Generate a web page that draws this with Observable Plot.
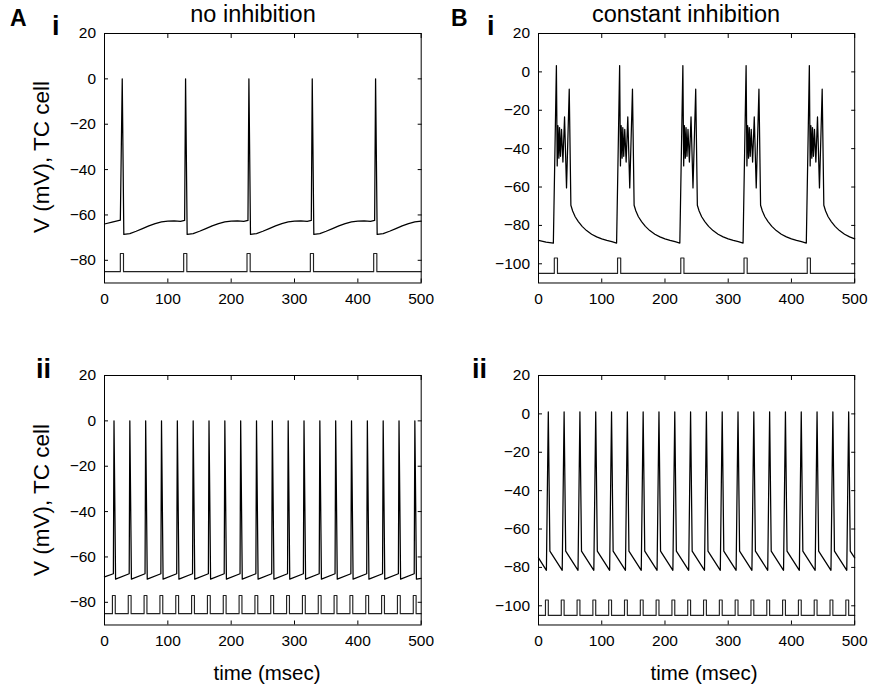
<!DOCTYPE html>
<html><head><meta charset="utf-8">
<script src="https://cdn.jsdelivr.net/npm/d3@7"></script>
<script src="https://cdn.jsdelivr.net/npm/@observablehq/plot@0.6"></script>
<style>
body{margin:0;background:#fff;}
#wrap{position:relative;width:870px;height:690px;overflow:hidden;font-family:"Liberation Sans",Arial,sans-serif;}
#overlay{position:absolute;left:0;top:0;pointer-events:none;}
</style></head><body><div id="wrap"></div>
<script>
// ---- data ----
const xTicks = [0,100,200,300,400,500];
const yTicksA = [-80,-60,-40,-20,0,20];
const yTicksB = [-100,-80,-60,-40,-20,0,20];
const yDomainA = [-90,20];
const yDomainB = [-110,20];
const pulseLevelsA = [-85,-77];
const pulseLevelsB = [-105,-97];
const pulseOnAi = [25,125,225,325,425];
const pulseOnBi = [25,125,225,325,425];
const pulseOnAii = [12.5,37.5,62.5,87.5,112.5,137.5,162.5,187.5,212.5,237.5,262.5,287.5,312.5,337.5,362.5,387.5,412.5,437.5,462.5,487.5];
const pulseOnBii = [11,36,61,86,111,136,161,186,211,236,261,286,311,336,361,386,411,436,461,486];
const pulseWidthI = 5;
const pulseWidthII = 4.5;

// V (mV) traces as [time (ms), V]
const vAi = [
[0,-64],[12,-63.2],[25,-62.3],
[28,0],[30.5,-68.6],[40,-68.2],[50,-67.2],[60,-66],[70,-64.8],[80,-63.8],[90,-63.1],[100,-62.7],[110,-62.6],[120,-62.8],[126.5,-62.4],
[128,0],[130.5,-68.6],[140,-68.2],[150,-67.2],[160,-66],[170,-64.8],[180,-63.8],[190,-63.1],[200,-62.7],[210,-62.6],[220,-62.8],[226.5,-62.4],
[228,0],[230.5,-68.6],[240,-68.2],[250,-67.2],[260,-66],[270,-64.8],[280,-63.8],[290,-63.1],[300,-62.7],[310,-62.6],[320,-62.8],[326.5,-62.4],
[328,0],[330.5,-68.6],[340,-68.2],[350,-67.2],[360,-66],[370,-64.8],[380,-63.8],[390,-63.1],[400,-62.7],[410,-62.6],[420,-62.8],[426.5,-62.4],
[428,0],[430.5,-68.6],[440,-68.2],[450,-67.2],[460,-66],[470,-64.8],[480,-63.8],[490,-63.1],[500,-62.7]
];
const vBi = [
[0,-87.8],[12,-88.7],
[23.5,-89.2],[28.3,3.3],[29.6,-49],[30.7,-28],[32.2,-45],[33.3,-29],[34.8,-44],[36.4,-30],[38.6,-47],[41.2,-23.5],[44.3,-60.5],[48.6,-9],[51.2,-69.5],[54,-72.5],[58,-75.5],[63,-78],[69,-80.5],[76,-82.7],[84,-84.6],[92,-86],[100,-87],[108,-87.8],[116,-88.5],
[123.5,-89.2],[128.3,3.3],[129.6,-49],[130.7,-28],[132.2,-45],[133.3,-29],[134.8,-44],[136.4,-30],[138.6,-47],[141.2,-23.5],[144.3,-60.5],[148.6,-9],[151.2,-69.5],[154,-72.5],[158,-75.5],[163,-78],[169,-80.5],[176,-82.7],[184,-84.6],[192,-86],[200,-87],[208,-87.8],[216,-88.5],
[223.5,-89.2],[228.3,3.3],[229.6,-49],[230.7,-28],[232.2,-45],[233.3,-29],[234.8,-44],[236.4,-30],[238.6,-47],[241.2,-23.5],[244.3,-60.5],[248.6,-9],[251.2,-69.5],[254,-72.5],[258,-75.5],[263,-78],[269,-80.5],[276,-82.7],[284,-84.6],[292,-86],[300,-87],[308,-87.8],[316,-88.5],
[323.5,-89.2],[328.3,3.3],[329.6,-49],[330.7,-28],[332.2,-45],[333.3,-29],[334.8,-44],[336.4,-30],[338.6,-47],[341.2,-23.5],[344.3,-60.5],[348.6,-9],[351.2,-69.5],[354,-72.5],[358,-75.5],[363,-78],[369,-80.5],[376,-82.7],[384,-84.6],[392,-86],[400,-87],[408,-87.8],[416,-88.5],
[423.5,-89.2],[428.3,3.3],[429.6,-49],[430.7,-28],[432.2,-45],[433.3,-29],[434.8,-44],[436.4,-30],[438.6,-47],[441.2,-23.5],[444.3,-60.5],[448.6,-9],[451.2,-69.5],[454,-72.5],[458,-75.5],[463,-78],[469,-80.5],[476,-82.7],[484,-84.6],[492,-86],[500,-87]
];
const vAii = [
[0,-68.8],[14,-67.4],[15,0],[17.5,-69.8],
[39,-67.4],[40,0],[42.5,-69.8],
[64,-67.4],[65,0],[67.5,-69.8],
[89,-67.4],[90,0],[92.5,-69.8],
[114,-67.4],[115,0],[117.5,-69.8],
[139,-67.4],[140,0],[142.5,-69.8],
[164,-67.4],[165,0],[167.5,-69.8],
[189,-67.4],[190,0],[192.5,-69.8],
[214,-67.4],[215,0],[217.5,-69.8],
[239,-67.4],[240,0],[242.5,-69.8],
[264,-67.4],[265,0],[267.5,-69.8],
[289,-67.4],[290,0],[292.5,-69.8],
[314,-67.4],[315,0],[317.5,-69.8],
[339,-67.4],[340,0],[342.5,-69.8],
[364,-67.4],[365,0],[367.5,-69.8],
[389,-67.4],[390,0],[392.5,-69.8],
[414,-67.4],[415,0],[417.5,-69.8],
[439,-67.4],[440,0],[442.5,-69.8],
[464,-67.4],[465,0],[467.5,-69.8],
[489,-67.4],[490,0],[492.5,-69.8],
[500,-69.4]
];
const vBii = [
[0,-75],[12.5,-81.5],[15.5,1],[18,-71.5],
[37.5,-81.5],[40.5,1],[43,-71.5],
[62.5,-81.5],[65.5,1],[68,-71.5],
[87.5,-81.5],[90.5,1],[93,-71.5],
[112.5,-81.5],[115.5,1],[118,-71.5],
[137.5,-81.5],[140.5,1],[143,-71.5],
[162.5,-81.5],[165.5,1],[168,-71.5],
[187.5,-81.5],[190.5,1],[193,-71.5],
[212.5,-81.5],[215.5,1],[218,-71.5],
[237.5,-81.5],[240.5,1],[243,-71.5],
[262.5,-81.5],[265.5,1],[268,-71.5],
[287.5,-81.5],[290.5,1],[293,-71.5],
[312.5,-81.5],[315.5,1],[318,-71.5],
[337.5,-81.5],[340.5,1],[343,-71.5],
[362.5,-81.5],[365.5,1],[368,-71.5],
[387.5,-81.5],[390.5,1],[393,-71.5],
[412.5,-81.5],[415.5,1],[418,-71.5],
[437.5,-81.5],[440.5,1],[443,-71.5],
[462.5,-81.5],[465.5,1],[468,-71.5],
[487.5,-81.5],[490.5,1],[493,-71.5],
[500,-75]
];

// ---- helpers ----
const toRows = arr => arr.map(([t, v]) => ({t, v}));
function pulseTrace(onsets, w, [lo, hi]) {
  const pts = [{t: xTicks[0], v: lo}];
  for (const a of onsets) pts.push({t: a, v: lo}, {t: a, v: hi}, {t: a + w, v: hi}, {t: a + w, v: lo});
  pts.push({t: xTicks[xTicks.length - 1], v: lo});
  return pts;
}

const wrap = document.getElementById("wrap");
const FONT = '"Liberation Sans", Arial, Helvetica, sans-serif';

function panel({fx, fy, fw, fh, yDomain, yTicks, trace, pulses}) {
  const mL = 62, mT = 12, mR = 30, mB = 34;
  const chart = Plot.plot({
    width: fw + mL + mR, height: fh + mT + mB,
    marginLeft: mL, marginTop: mT, marginRight: mR, marginBottom: mB,
    x: {domain: [xTicks[0], xTicks[xTicks.length - 1]]},
    y: {domain: yDomain},
    style: {fontFamily: FONT, fontSize: "15.5px", color: "black", background: "transparent", overflow: "visible"},
    marks: [
      Plot.line(pulses, {x: "t", y: "v", stroke: "#222", strokeWidth: 1.15}),
      Plot.line(toRows(trace), {x: "t", y: "v", stroke: "black", strokeWidth: 1.25}),
      Plot.frame({stroke: "black", strokeWidth: 1}),
      Plot.axisX(xTicks, {anchor: "bottom", tickSize: -4, tickPadding: 14, label: null}),
      Plot.axisX(xTicks, {anchor: "top", tickSize: -4, tickFormat: () => "", label: null}),
      Plot.axisY(yTicks, {anchor: "left", tickSize: -4, tickPadding: 12.5, label: null}),
      Plot.axisY(yTicks, {anchor: "right", tickSize: -4, tickFormat: () => "", label: null})
    ]
  });
  chart.style.position = "absolute";
  chart.style.left = (fx - mL) + "px";
  chart.style.top = (fy - mT) + "px";
  chart.style.maxWidth = "none";
  wrap.appendChild(chart);
}

panel({fx: 104, fy: 32.5, fw: 316.7, fh: 249.5, yDomain: yDomainA, yTicks: yTicksA, trace: vAi,
       pulses: pulseTrace(pulseOnAi, pulseWidthI, pulseLevelsA)});
panel({fx: 538.3, fy: 32.5, fw: 316.2, fh: 249.5, yDomain: yDomainB, yTicks: yTicksB, trace: vBi,
       pulses: pulseTrace(pulseOnBi, pulseWidthI, pulseLevelsB)});
panel({fx: 104, fy: 374.5, fw: 316.7, fh: 249.5, yDomain: yDomainA, yTicks: yTicksA, trace: vAii,
       pulses: pulseTrace(pulseOnAii, pulseWidthII, pulseLevelsA)});
panel({fx: 538.3, fy: 374.5, fw: 316.2, fh: 249.5, yDomain: yDomainB, yTicks: yTicksB, trace: vBii,
       pulses: pulseTrace(pulseOnBii, pulseWidthII, pulseLevelsB)});

// ---- text labels ----
const labels = [
  {text: "A", x: 10, y: 26, size: 23, weight: "bold", anchor: "start"},
  {text: "i", x: 52, y: 35, size: 27, weight: "bold", anchor: "start"},
  {text: "B", x: 451, y: 26, size: 23, weight: "bold", anchor: "start"},
  {text: "i", x: 487, y: 35, size: 27, weight: "bold", anchor: "start"},
  {text: "ii", x: 36, y: 378, size: 27, weight: "bold", anchor: "start"},
  {text: "ii", x: 472, y: 378, size: 27, weight: "bold", anchor: "start"},
  {text: "no inhibition", x: 253, y: 22, size: 23.5, weight: "normal", anchor: "middle"},
  {text: "constant inhibition", x: 686, y: 22, size: 23.5, weight: "normal", anchor: "middle"},
  {text: "time (msec)", x: 267, y: 680, size: 20.5, weight: "normal", anchor: "middle"},
  {text: "time (msec)", x: 704, y: 680, size: 20.5, weight: "normal", anchor: "middle"},
  {text: "V (mV), TC cell", x: 49, y: 157, size: 22.5, weight: "normal", anchor: "middle", rotate: true},
  {text: "V (mV), TC cell", x: 49, y: 500, size: 22.5, weight: "normal", anchor: "middle", rotate: true}
];
const ns = "http://www.w3.org/2000/svg";
const ov = document.createElementNS(ns, "svg");
ov.setAttribute("id", "overlay");
ov.setAttribute("width", 870); ov.setAttribute("height", 690);
for (const l of labels) {
  const t = document.createElementNS(ns, "text");
  t.textContent = l.text;
  t.setAttribute("x", l.x); t.setAttribute("y", l.y);
  t.setAttribute("font-family", FONT);
  t.setAttribute("font-size", l.size);
  t.setAttribute("font-weight", l.weight);
  t.setAttribute("text-anchor", l.anchor);
  t.setAttribute("fill", "black");
  if (l.rotate) t.setAttribute("transform", `rotate(-90 ${l.x} ${l.y})`);
  ov.appendChild(t);
}
wrap.appendChild(ov);
</script></body></html>
